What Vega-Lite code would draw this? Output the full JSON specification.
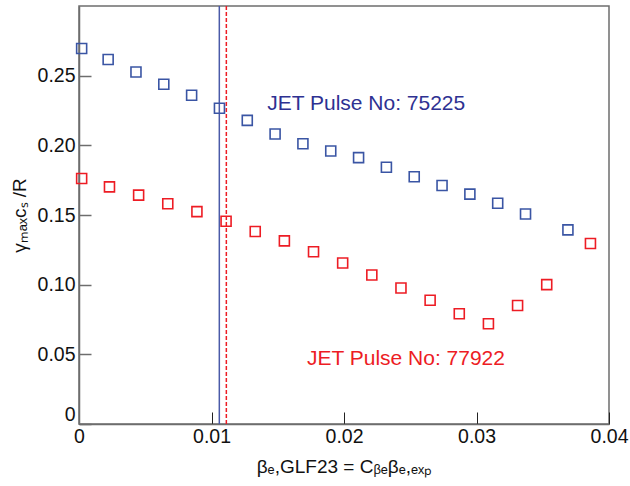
{
  "$schema": "https://vega.github.io/schema/vega-lite/v6.json",
  "autosize": "none",
  "width": 530,
  "height": 418,
  "padding": {"left": 79, "top": 6, "right": 21, "bottom": 62},
  "background": "white",
  "config": {
    "font": "Liberation Sans",
    "view": {"stroke": "#6d6d6d", "strokeWidth": 1.5}
  },
  "datasets": {
    "points": [
      {"series": "75225", "beta": 0.0002, "gamma": 0.2695},
      {"series": "75225", "beta": 0.0022, "gamma": 0.2616},
      {"series": "75225", "beta": 0.0043, "gamma": 0.2526},
      {"series": "75225", "beta": 0.0064, "gamma": 0.2438},
      {"series": "75225", "beta": 0.0085, "gamma": 0.2359},
      {"series": "75225", "beta": 0.0106, "gamma": 0.2266},
      {"series": "75225", "beta": 0.0127, "gamma": 0.2179},
      {"series": "75225", "beta": 0.0148, "gamma": 0.2081},
      {"series": "75225", "beta": 0.0169, "gamma": 0.2011},
      {"series": "75225", "beta": 0.0190, "gamma": 0.1959},
      {"series": "75225", "beta": 0.0211, "gamma": 0.1912},
      {"series": "75225", "beta": 0.0232, "gamma": 0.1843},
      {"series": "75225", "beta": 0.0253, "gamma": 0.1774},
      {"series": "75225", "beta": 0.0274, "gamma": 0.1712},
      {"series": "75225", "beta": 0.0295, "gamma": 0.1650},
      {"series": "75225", "beta": 0.0316, "gamma": 0.1584},
      {"series": "75225", "beta": 0.0337, "gamma": 0.1507},
      {"series": "75225", "beta": 0.0369, "gamma": 0.1393},
      {"series": "77922", "beta": 0.0002, "gamma": 0.1762},
      {"series": "77922", "beta": 0.0023, "gamma": 0.1702},
      {"series": "77922", "beta": 0.0045, "gamma": 0.1643},
      {"series": "77922", "beta": 0.0067, "gamma": 0.1581},
      {"series": "77922", "beta": 0.0089, "gamma": 0.1524},
      {"series": "77922", "beta": 0.0111, "gamma": 0.1455},
      {"series": "77922", "beta": 0.0133, "gamma": 0.1382},
      {"series": "77922", "beta": 0.0155, "gamma": 0.1314},
      {"series": "77922", "beta": 0.0177, "gamma": 0.1236},
      {"series": "77922", "beta": 0.0199, "gamma": 0.1155},
      {"series": "77922", "beta": 0.0221, "gamma": 0.1069},
      {"series": "77922", "beta": 0.0243, "gamma": 0.0976},
      {"series": "77922", "beta": 0.0265, "gamma": 0.0888},
      {"series": "77922", "beta": 0.0287, "gamma": 0.0791},
      {"series": "77922", "beta": 0.0309, "gamma": 0.0719},
      {"series": "77922", "beta": 0.0331, "gamma": 0.0850},
      {"series": "77922", "beta": 0.0353, "gamma": 0.1000},
      {"series": "77922", "beta": 0.0386, "gamma": 0.1295}
    ],
    "lines": [
      {"series": "75225", "beta": 0.01059},
      {"series": "77922", "beta": 0.01112}
    ],
    "labels": [
      {"series": "75225", "beta": 0.0142, "gamma": 0.230, "label": "JET Pulse No: 75225"},
      {"series": "77922", "beta": 0.0172, "gamma": 0.047, "label": "JET Pulse No: 77922"}
    ]
  },
  "layer": [
    {
      "data": {"name": "lines"},
      "mark": {"type": "rule", "strokeWidth": 1.5},
      "encoding": {
        "x": {"field": "beta", "type": "quantitative", "scale": {"domain": [0, 0.04]}},
        "color": {"field": "series", "type": "nominal", "scale": {"domain": ["75225", "77922"], "range": ["#4a5aa8", "#ed1c24"]}, "legend": null},
        "strokeDash": {"field": "series", "type": "nominal", "scale": {"domain": ["75225", "77922"], "range": [[1, 0], [4, 2]]}, "legend": null}
      }
    },
    {
      "data": {"name": "points"},
      "mark": {"type": "point", "shape": "square", "size": 100, "strokeWidth": 1.6, "filled": false, "opacity": 1},
      "encoding": {
        "x": {
          "field": "beta", "type": "quantitative",
          "scale": {"domain": [0, 0.04], "nice": false},
          "axis": {
            "values": [0, 0.01, 0.02, 0.03, 0.04],
            "labelExpr": "datum.value == 0 ? '0' : format(datum.value, '.2f')",
            "labelFlush": false,
            "tickSize": -12, "tickColor": "#222", "tickWidth": 1,
            "domainColor": "#6d6d6d", "domainWidth": 1.5,
            "labelFontSize": 19.5, "labelColor": "#111", "labelPadding": 15,
            "grid": false,
            "title": "βₑ,GLF23 = Cᵦₑβₑ,ₑₓₚ",
            "titleFontSize": 19, "titleFontWeight": "normal", "titleColor": "#111", "titlePadding": 12
          }
        },
        "y": {
          "field": "gamma", "type": "quantitative",
          "scale": {"domain": [0, 0.3], "nice": false},
          "axis": {
            "values": [0, 0.05, 0.1, 0.15, 0.2, 0.25],
            "labelExpr": "datum.value == 0 ? '0' : format(datum.value, '.2f')",
            "labelFlush": true,
            "tickSize": -12, "tickColor": "#6d6d6d", "tickWidth": 1.5,
            "domainColor": "#6d6d6d", "domainWidth": 1.5,
            "labelFontSize": 19.5, "labelColor": "#111", "labelPadding": 16,
            "grid": false,
            "title": "γₘₐₓcₛ /R",
            "titleFontSize": 19, "titleFontWeight": "normal", "titleColor": "#111", "titlePadding": 8
          }
        },
        "color": {"field": "series", "type": "nominal", "scale": {"domain": ["75225", "77922"], "range": ["#3a55a4", "#ed1c24"]}, "legend": null}
      }
    },
    {
      "data": {"name": "labels"},
      "mark": {"type": "text", "align": "left", "baseline": "middle", "fontSize": 21},
      "encoding": {
        "x": {"field": "beta", "type": "quantitative"},
        "y": {"field": "gamma", "type": "quantitative"},
        "text": {"field": "label"},
        "color": {"field": "series", "type": "nominal", "scale": {"domain": ["75225", "77922"], "range": ["#2e3192", "#ed1c24"]}, "legend": null}
      }
    }
  ],
  "resolve": {"scale": {"color": "independent"}}
}
